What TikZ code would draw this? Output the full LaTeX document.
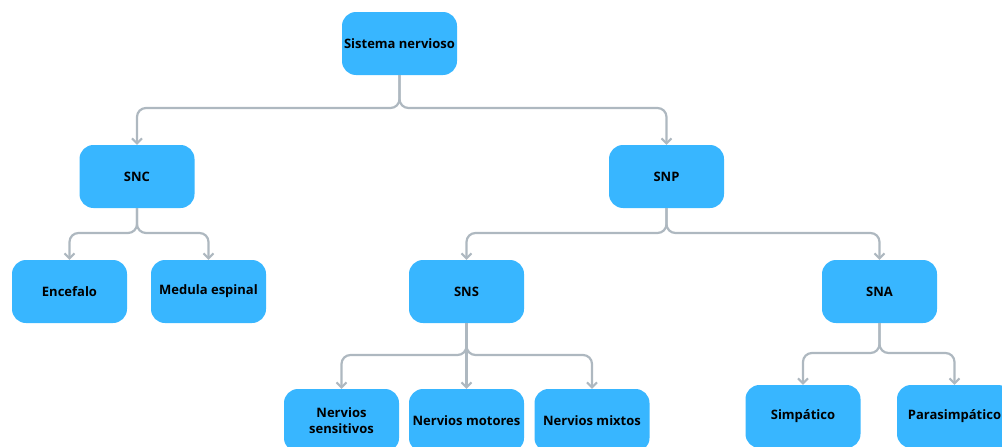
\documentclass[tikz,border=0pt]{standalone}
\usepackage{fontspec}
\setmainfont{Open Sans}
\usetikzlibrary{arrows.meta}
\definecolor{boxblue}{HTML}{38B6FF}
\definecolor{linegray}{HTML}{AEB8C0}
\tikzset{
  box/.style={draw=none, fill=boxblue, rounded corners=14pt, minimum width=115pt, minimum height=63pt,
    inner sep=2pt, align=center, font=\fontsize{13}{16}\selectfont\bfseries, text=black},
  conn/.style={draw=linegray, line width=2.2pt, rounded corners=9pt,
    -{Straight Barb[length=5pt,width=10pt,line width=2pt]}}
}
\begin{document}
\begin{tikzpicture}[x=1pt,y=-1pt]
\useasboundingbox (0,0) rectangle (1002,447);
\clip (0,0) rectangle (1002,447);
\node[box] (sn) at (399.5,43.5) {Sistema nervioso};
\node[box] (snc) at (137,176.5) {SNC};
\node[box] (snp) at (666.5,176.5) {SNP};
\node[box] (enc) at (69.5,291.5) {Encefalo};
\node[box] (med) at (208.5,291.5) {Medula espinal};
\node[box] (sns) at (466.5,291.5) {SNS};
\node[box] (sna) at (879.5,291.5) {SNA};
\node[box] (nsen) at (341.5,420.5) {Nervios\\sensitivos};
\node[box] (nmot) at (466.5,420.5) {Nervios motores};
\node[box] (nmix) at (592,420.5) {Nervios mixtos};
\node[box] (simp) at (803,416.5) {Simpático};
\node[box] (para) at (954.5,416.5) {Parasimpático};
\coordinate (b1) at (399.5,108);
\coordinate (b2) at (137,233);
\coordinate (b3) at (666.5,233);
\coordinate (b4) at (466.5,355);
\coordinate (b5) at (879.5,353);
\draw[conn] (sn.south) -- (b1) -| (snc.north);
\draw[conn] (sn.south) -- (b1) -| (snp.north);
\draw[conn] (snc.south) -- (b2) -| (enc.north);
\draw[conn] (snc.south) -- (b2) -| (med.north);
\draw[conn] (snp.south) -- (b3) -| (sns.north);
\draw[conn] (snp.south) -- (b3) -| (sna.north);
\draw[conn] (sns.south) -- (b4) -| (nsen.north);
\draw[conn] (sns.south) -- (nmot.north);
\draw[conn] (sns.south) -- (b4) -| (nmix.north);
\draw[conn] (sna.south) -- (b5) -| (simp.north);
\draw[conn] (sna.south) -- (b5) -| (para.north);
\end{tikzpicture}
\end{document}
